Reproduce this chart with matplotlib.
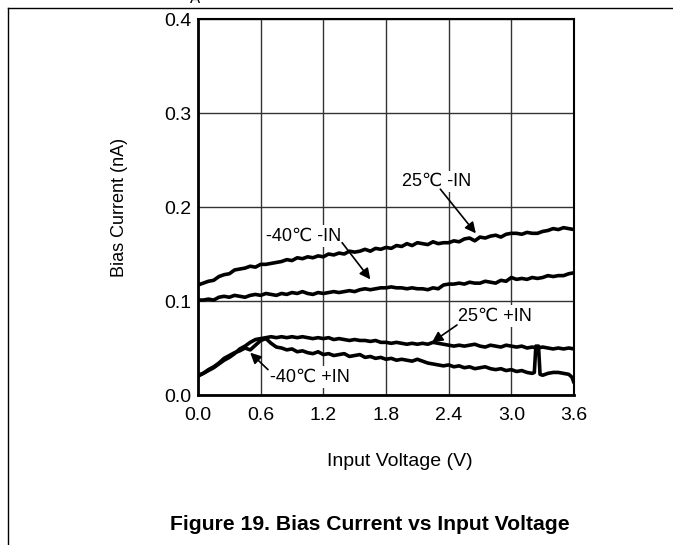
import matplotlib
matplotlib.use("Agg")
import matplotlib.pyplot as plt
import numpy as np
from matplotlib.lines import Line2D

plt.rcParams["font.family"] = ["Liberation Sans", "DejaVu Sans"]

# common voltage grid (0.05 V steps) for the three smooth traces
V_GRID = np.linspace(0.0, 3.6, 73)

I_25_NEG = [0.117, 0.119, 0.121, 0.122, 0.126, 0.128, 0.129, 0.133, 0.134, 0.135,
            0.137, 0.136, 0.139, 0.139, 0.140, 0.141, 0.142, 0.144, 0.143, 0.146,
            0.145, 0.147, 0.146, 0.148, 0.147, 0.150, 0.149, 0.151, 0.150, 0.153,
            0.152, 0.153, 0.155, 0.153, 0.156, 0.155, 0.157, 0.156, 0.159, 0.158,
            0.161, 0.159, 0.162, 0.161, 0.160, 0.163, 0.161, 0.162, 0.162, 0.164,
            0.163, 0.166, 0.167, 0.164, 0.168, 0.167, 0.169, 0.170, 0.168, 0.171,
            0.172, 0.172, 0.171, 0.173, 0.172, 0.172, 0.174, 0.175, 0.177, 0.176,
            0.178, 0.177, 0.176]

I_M40_NEG = [0.101, 0.101, 0.102, 0.101, 0.104, 0.105, 0.104, 0.106, 0.105, 0.104,
             0.106, 0.107, 0.106, 0.108, 0.107, 0.106, 0.108, 0.107, 0.109, 0.108,
             0.110, 0.108, 0.107, 0.109, 0.108, 0.109, 0.110, 0.109, 0.110, 0.111,
             0.110, 0.112, 0.113, 0.112, 0.113, 0.114, 0.114, 0.115, 0.114, 0.114,
             0.113, 0.114, 0.113, 0.113, 0.112, 0.114, 0.113, 0.117, 0.118, 0.118,
             0.119, 0.118, 0.120, 0.119, 0.119, 0.121, 0.120, 0.119, 0.122, 0.121,
             0.125, 0.123, 0.124, 0.123, 0.125, 0.124, 0.125, 0.127, 0.126, 0.127,
             0.127, 0.129, 0.130]

I_25_POS = [0.021, 0.023, 0.026, 0.029, 0.033, 0.037, 0.040, 0.044, 0.049, 0.052,
            0.056, 0.059, 0.060, 0.061, 0.062, 0.061, 0.062, 0.061, 0.062, 0.061,
            0.062, 0.061, 0.060, 0.061, 0.060, 0.061, 0.059, 0.060, 0.059, 0.058,
            0.059, 0.058, 0.058, 0.057, 0.058, 0.056, 0.056, 0.055, 0.056, 0.055,
            0.054, 0.055, 0.054, 0.055, 0.054, 0.056, 0.055, 0.054, 0.053, 0.052,
            0.053, 0.052, 0.053, 0.054, 0.052, 0.051, 0.053, 0.052, 0.051, 0.053,
            0.052, 0.051, 0.052, 0.050, 0.051, 0.050, 0.051, 0.050, 0.049, 0.050,
            0.049, 0.050, 0.049]

# -40C +IN has a narrow spike near 3.25 V, so it gets its own x values
V_M40_POS = [0.00, 0.05, 0.10, 0.15, 0.20, 0.25, 0.30, 0.35, 0.40, 0.45,
             0.50, 0.55, 0.60, 0.65, 0.70, 0.75, 0.80, 0.85, 0.90, 0.95,
             1.00, 1.05, 1.10, 1.15, 1.20, 1.25, 1.30, 1.35, 1.40, 1.45,
             1.50, 1.55, 1.60, 1.65, 1.70, 1.75, 1.80, 1.85, 1.90, 1.95,
             2.00, 2.05, 2.10, 2.15, 2.20, 2.25, 2.30, 2.35, 2.40, 2.45,
             2.50, 2.55, 2.60, 2.65, 2.70, 2.75, 2.80, 2.85, 2.90, 2.95,
             3.00, 3.05, 3.10, 3.15, 3.20, 3.22, 3.235, 3.26, 3.275, 3.30,
             3.35, 3.40, 3.45, 3.50, 3.55, 3.58, 3.60]
I_M40_POS = [0.020, 0.023, 0.027, 0.030, 0.034, 0.039, 0.042, 0.045, 0.047, 0.050,
             0.048, 0.053, 0.058, 0.060, 0.055, 0.051, 0.050, 0.048, 0.049, 0.046,
             0.047, 0.045, 0.044, 0.046, 0.043, 0.044, 0.042, 0.043, 0.044, 0.041,
             0.042, 0.043, 0.040, 0.041, 0.039, 0.040, 0.038, 0.039, 0.037, 0.038,
             0.037, 0.036, 0.038, 0.036, 0.034, 0.033, 0.032, 0.031, 0.032, 0.030,
             0.031, 0.029, 0.030, 0.028, 0.029, 0.030, 0.028, 0.027, 0.028, 0.026,
             0.027, 0.025, 0.026, 0.024, 0.023, 0.024, 0.052, 0.052, 0.022, 0.021,
             0.023, 0.024, 0.024, 0.023, 0.022, 0.019, 0.013]

X_TICKS = [0.0, 0.6, 1.2, 1.8, 2.4, 3.0, 3.6]
Y_TICKS = [0.0, 0.1, 0.2, 0.3, 0.4]

# (label, text centre, arrow start, arrow tip)
NOTES = [
    ("25\u2103 -IN", (2.28, 0.227), (2.32, 0.219), (2.66, 0.172)),
    ("-40\u2103 -IN", (1.015, 0.169), (1.38, 0.162), (1.65, 0.123)),
    ("25\u2103 +IN", (2.84, 0.084), (2.48, 0.0745), (2.24, 0.056)),
    ("-40\u2103 +IN", (1.07, 0.019), (0.67, 0.027), (0.50, 0.045)),
]


def main() -> None:
    fig = plt.figure(figsize=(6.73, 5.45), dpi=100)
    ax = fig.add_axes([198 / 673, 1 - 395 / 545, 376 / 673, 376 / 545])

    for xs, ys in ((V_GRID, I_25_NEG), (V_GRID, I_M40_NEG),
                   (V_GRID, I_25_POS), (V_M40_POS, I_M40_POS)):
        ax.plot(xs, ys, color="black", lw=2.6, solid_joinstyle="round",
                solid_capstyle="round", zorder=3)

    ax.set_xlim(0, 3.6)
    ax.set_ylim(0, 0.4)
    ax.set_xticks(X_TICKS)
    ax.set_yticks(Y_TICKS)
    ax.set_xticklabels([f"{v:.1f}" for v in X_TICKS])
    ax.set_yticklabels([f"{v:.1f}" for v in Y_TICKS])
    ax.tick_params(length=0, labelsize=14)
    ax.tick_params(axis="x", pad=9)
    ax.tick_params(axis="y", pad=4.5)
    ax.grid(True, color="#333333", lw=1.0)
    ax.set_axisbelow(True)
    for side in ("left", "bottom"):
        ax.spines[side].set_linewidth(2.0)
    for side in ("top", "right"):
        ax.spines[side].set_linewidth(1.5)

    ax.set_xlabel("Input Voltage (V)", fontsize=14)
    ax.set_ylabel("Bias Current (nA)", fontsize=13)
    ax.xaxis.set_label_coords((400 - 198) / 376, -(462 - 395) / 376)
    ax.xaxis.label.set_va("center")
    ax.yaxis.set_label_coords(-(198 - 120) / 376, (395 - 207) / 376)
    ax.yaxis.label.set_va("center")

    for label, txt, start, tip in NOTES:
        ax.text(*txt, label, ha="center", va="center", fontsize=13, zorder=4,
                bbox=dict(facecolor="white", edgecolor="none", pad=1.5))
        ax.annotate("", xy=tip, xytext=start, zorder=5,
                    arrowprops=dict(arrowstyle="-|>", color="black", lw=1.2,
                                    mutation_scale=16, shrinkA=0, shrinkB=0))

    fig.text(170 / 673, 1 - 525 / 545, "Figure 19. Bias Current vs Input Voltage",
             ha="left", va="center", fontsize=15.2, fontweight="bold")

    # page frame around the figure (cropped datasheet)
    fig.add_artist(Line2D([8 / 673, 1], [1 - 8 / 545, 1 - 8 / 545],
                          transform=fig.transFigure, color="black", lw=1))
    fig.add_artist(Line2D([8 / 673, 8 / 673], [0, 1 - 8 / 545],
                          transform=fig.transFigure, color="black", lw=1))
    fig.text(195 / 673, 1 - 3 / 545, "A", ha="center", va="baseline", fontsize=11)

    fig.savefig("out.png", dpi=100)


if __name__ == "__main__":
    main()
